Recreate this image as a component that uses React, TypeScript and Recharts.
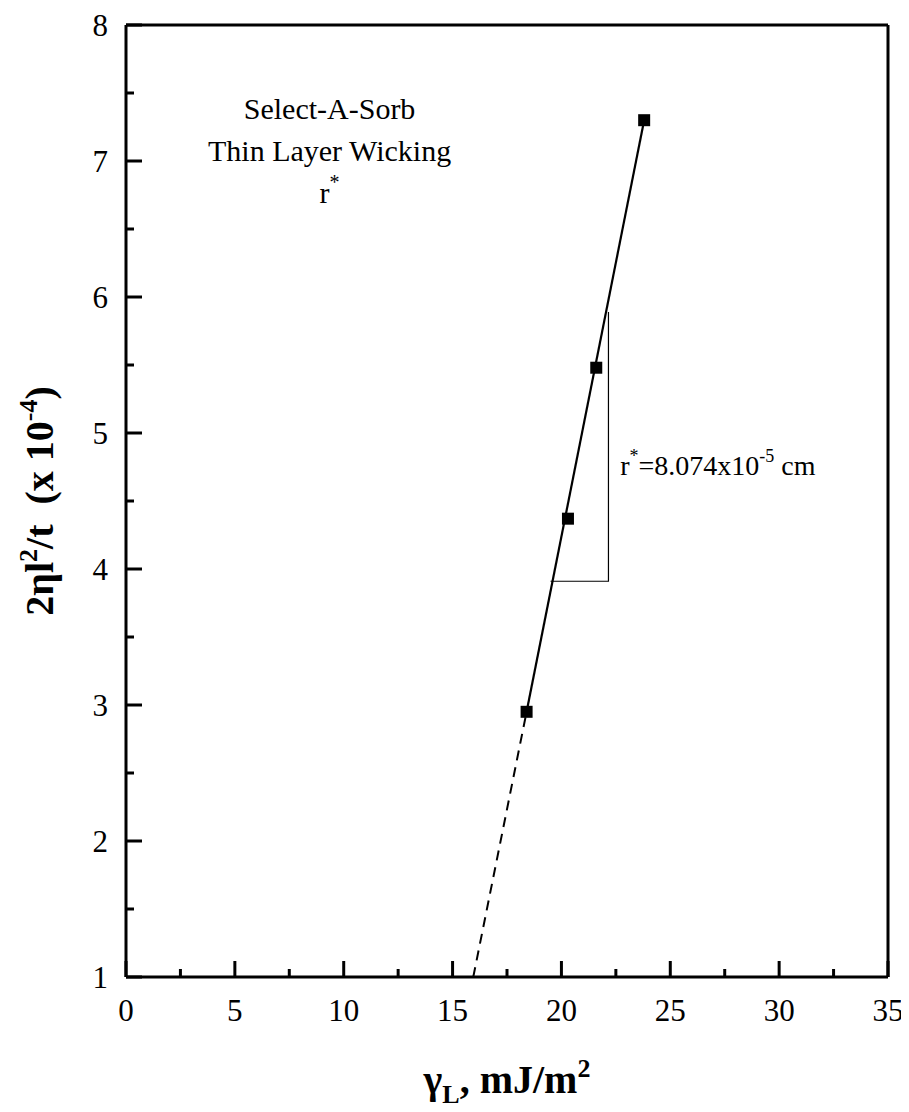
import React from 'react';
import { ScatterChart, Scatter, XAxis, YAxis, ReferenceLine, Label } from 'recharts';

const FONT = '"Liberation Serif", "Times New Roman", Times, serif';

// measured data (surface tension vs. 2ηl²/t ×10⁻⁴)
const surfaceTension = [18.4, 20.3, 21.6, 23.8];
const wickingRate = [2.95, 4.37, 5.48, 7.3];

// fitted line: solid over the data, dashed extrapolation
const fitSolidX = [18.4, 23.8];
const fitSolidY = [2.95, 7.3];
const fitDashX = [15.95, 18.4];
const fitDashY = [1.0, 2.95];

// slope triangle
const slopeX = [19.5, 22.16, 22.16];
const slopeY = [3.91, 3.91, 5.89];

// annotations
const titleLines = ['Select-A-Sorb', 'Thin Layer Wicking', 'r*'];
const titleX = [9.35, 9.35, 9.35];
const titleY = [7.31, 7.0, 6.69];
const slopeNoteX = [22.7];
const slopeNoteY = [4.69];

const xTicks = [0, 2.5, 5, 7.5, 10, 12.5, 15, 17.5, 20, 22.5, 25, 27.5, 30, 32.5, 35];
const yTicks = [1, 1.5, 2, 2.5, 3, 3.5, 4, 4.5, 5, 5.5, 6, 6.5, 7, 7.5, 8];

const points = surfaceTension.map((x, i) => ({ x, y: wickingRate[i] }));
const solid = fitSolidX.map((x, i) => ({ x, y: fitSolidY[i] }));
const dashed = fitDashX.map((x, i) => ({ x, y: fitDashY[i] }));
const slope = slopeX.map((x, i) => ({ x, y: slopeY[i] }));
const titles = titleLines.map((t, i) => ({ x: titleX[i], y: titleY[i], t }));
const note = slopeNoteX.map((x, i) => ({ x, y: slopeNoteY[i] }));

const XTick = (props: any) => {
  const { x, y, payload } = props;
  const v = payload.value;
  const major = v % 5 === 0;
  return (
    <g>
      <line x1={x} x2={x} y1={y} y2={y - (major ? 16 : 8)} stroke="#000" strokeWidth={3} />
      {major && (
        <text x={x} y={y + 44} textAnchor="middle" fontSize={31} fontFamily={FONT} fill="#000">
          {v}
        </text>
      )}
    </g>
  );
};

const YTick = (props: any) => {
  const { x, y, payload } = props;
  const v = payload.value;
  const major = Number.isInteger(v);
  return (
    <g>
      <line x1={x} x2={x + (major ? 16 : 8)} y1={y} y2={y} stroke="#000" strokeWidth={3} />
      {major && (
        <text x={x - 18} y={y + 11} textAnchor="end" fontSize={31} fontFamily={FONT} fill="#000">
          {v}
        </text>
      )}
    </g>
  );
};

const Square = (p: any) => <rect x={p.cx - 6} y={p.cy - 6} width={12} height={12} fill="#000" />;
const Nothing = () => <g />;

const TitleText = (p: any) => {
  const t = p.payload.t;
  if (t === 'r*') {
    return (
      <text x={p.cx} y={p.cy} textAnchor="middle" fontSize={30} fontFamily={FONT} fill="#000">
        r<tspan dy={-14} fontSize={20}>*</tspan>
      </text>
    );
  }
  return (
    <text x={p.cx} y={p.cy} textAnchor="middle" fontSize={30} fontFamily={FONT} fill="#000">
      {t}
    </text>
  );
};

const NoteText = (p: any) => (
  <text x={p.cx} y={p.cy} textAnchor="start" fontSize={28} fontFamily={FONT} fill="#000">
    r<tspan dy={-13} fontSize={18}>*</tspan>
    <tspan dy={13}>=8.074x10</tspan>
    <tspan dy={-13} fontSize={18}>-5</tspan>
    <tspan dy={13}> cm</tspan>
  </text>
);

const XTitle = (props: any) => {
  const vb = props.viewBox || {};
  const cx = vb.x + vb.width / 2;
  const y = vb.y + 116;
  return (
    <text x={cx} y={y} textAnchor="middle" fontSize={40} fontWeight="bold" fontFamily={FONT} fill="#000" style={{ whiteSpace: 'pre' }}>
      γ<tspan dy={10} fontSize={26}>L</tspan>
      <tspan dy={-10}>, mJ/m</tspan>
      <tspan dy={-16} fontSize={26}>2</tspan>
    </text>
  );
};

const YTitle = (props: any) => {
  const vb = props.viewBox || {};
  const cx = 45;
  const cy = vb.y + vb.height / 2;
  return (
    <text
      x={cx}
      y={cy}
      transform={`rotate(-90, ${cx}, ${cy})`}
      textAnchor="middle"
      fontSize={40}
      fontWeight="bold"
      fontFamily={FONT}
      fill="#000"
      style={{ whiteSpace: 'pre' }}
    >
      2ηl<tspan dy={-16} fontSize={26}>2</tspan>
      <tspan dy={16}>/t  (x 10</tspan>
      <tspan dy={-16} fontSize={26}>-4</tspan>
      <tspan dy={16}>)</tspan>
    </text>
  );
};

export default function App() {
  return (
    <div style={{ width: 893, height: 1096, background: '#fff' }}>
      <ScatterChart width={901} height={1104} margin={{ top: 17, right: 21, left: 0, bottom: 0 }}>
        <XAxis
          type="number"
          dataKey="x"
          domain={[0, 35]}
          ticks={xTicks}
          interval={0}
          allowDataOverflow
          height={135}
          tickSize={0}
          tickMargin={0}
          tickLine={false}
          axisLine={{ stroke: '#000', strokeWidth: 3 }}
          tick={<XTick />}
        >
          <Label content={<XTitle />} />
        </XAxis>
        <YAxis
          type="number"
          dataKey="y"
          domain={[1, 8]}
          ticks={yTicks}
          interval={0}
          allowDataOverflow
          width={118}
          tickSize={0}
          tickMargin={0}
          tickLine={false}
          axisLine={{ stroke: '#000', strokeWidth: 3 }}
          tick={<YTick />}
        >
          <Label content={<YTitle />} />
        </YAxis>
        <ReferenceLine y={8} stroke="#000" strokeWidth={3} />
        <ReferenceLine x={35} stroke="#000" strokeWidth={3} />
        <Scatter
          data={dashed}
          line={{ stroke: '#000', strokeWidth: 2, strokeDasharray: '10 7' }}
          lineType="joint"
          shape={<Nothing />}
          isAnimationActive={false}
        />
        <Scatter
          data={solid}
          line={{ stroke: '#000', strokeWidth: 2.2 }}
          lineType="joint"
          shape={<Nothing />}
          isAnimationActive={false}
        />
        <Scatter
          data={slope}
          line={{ stroke: '#000', strokeWidth: 1.2 }}
          lineType="joint"
          shape={<Nothing />}
          isAnimationActive={false}
        />
        <Scatter data={points} shape={<Square />} isAnimationActive={false} />
        <Scatter data={titles} shape={<TitleText />} isAnimationActive={false} />
        <Scatter data={note} shape={<NoteText />} isAnimationActive={false} />
      </ScatterChart>
    </div>
  );
}
